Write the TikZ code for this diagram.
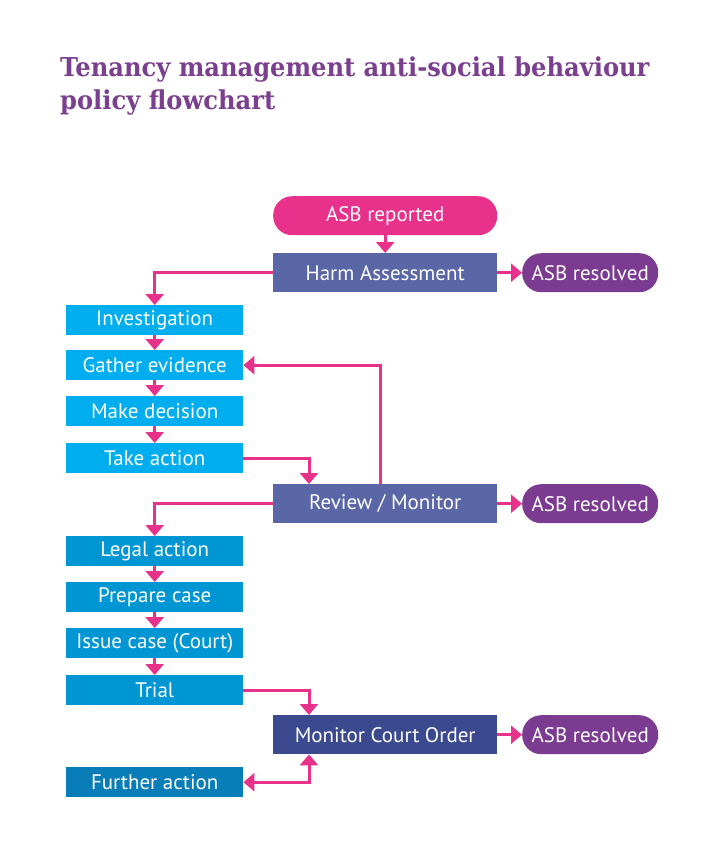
\documentclass[tikz,border=0pt]{standalone}
\usepackage{fontspec}
\setmainfont{PT Sans}
\newfontfamily\titlefont[FakeStretch=0.93]{DejaVu Serif}
\usetikzlibrary{arrows.meta,positioning}
\definecolor{titlepurple}{HTML}{7A3F8E}
\definecolor{asbpink}{HTML}{E8318A}
\definecolor{slate}{HTML}{5A66A6}
\definecolor{navy}{HTML}{3B4A8F}
\definecolor{respurple}{HTML}{7B3B91}
\definecolor{cyanA}{HTML}{00AEEF}
\definecolor{cyanB}{HTML}{0096D4}
\definecolor{cyanC}{HTML}{087DB7}
\tikzset{
  box/.style={draw=none, inner sep=0pt, anchor=north west, text=white, font=\fontsize{21}{24}\selectfont},
  leftbox/.style={box, minimum width=177pt, minimum height=30pt},
  midbox/.style={box, minimum width=224pt, minimum height=39pt},
  resbox/.style={box, minimum width=136pt, minimum height=39pt, rounded corners=19pt, fill=respurple},
  tip/.tip={Triangle[length=11pt,width=18pt]},
  arr/.style={draw=asbpink, line width=3pt, -tip},
  dblarr/.style={draw=asbpink, line width=3pt, tip-tip}
}
\begin{document}
\begin{tikzpicture}[x=1pt,y=-1pt]
\useasboundingbox (0,0) rectangle (722,852);
\fill[white] (0,0) rectangle (722,852);
% title
\node[anchor=base west, inner sep=0pt, text=titlepurple, font=\titlefont\bfseries\fontsize{26}{30}\selectfont] (t1) at (60,76) {Tenancy management anti-social behaviour};
\node[anchor=base west, inner sep=0pt, text=titlepurple, font=\titlefont\bfseries\fontsize{26}{30}\selectfont] (t2) at (60,109) {policy flowchart};
% middle column
\node[midbox, fill=asbpink, rounded corners=19pt] (rep) at (273,196) {ASB reported};
\node[midbox, fill=slate] (harm) at (273,253) {Harm Assessment};
\node[resbox] (res1) at (522,253) {ASB resolved};
\node[midbox, fill=slate] (rev) at (273,484) {Review / Monitor};
\node[resbox] (res2) at (522,484) {ASB resolved};
\node[midbox, fill=navy] (mco) at (273,715) {Monitor Court Order};
\node[resbox] (res3) at (522,715) {ASB resolved};
% left column
\node[leftbox, fill=cyanA] (inv) at (66,305) {Investigation};
\node[leftbox, fill=cyanA] (gat) at (66,350) {Gather evidence};
\node[leftbox, fill=cyanA] (mak) at (66,396) {Make decision};
\node[leftbox, fill=cyanA] (tak) at (66,443) {Take action};
\node[leftbox, fill=cyanB] (leg) at (66,536) {Legal action};
\node[leftbox, fill=cyanB] (pre) at (66,582) {Prepare case};
\node[leftbox, fill=cyanB] (iss) at (66,628) {Issue case (Court)};
\node[leftbox, fill=cyanB] (tri) at (66,675) {Trial};
\node[leftbox, fill=cyanC] (fur) at (66,767) {Further action};
% connectors
\draw[arr] (rep) -- (harm);
\draw[arr] (harm.west) -| (inv.north);
\draw[arr] (harm) -- (res1);
\draw[arr] (inv) -- (gat);
\draw[arr] (gat) -- (mak);
\draw[arr] (mak) -- (tak);
\draw[arr] (tak.east) -| ([xshift=36pt]rev.north west);
\draw[arr] ([xshift=-5pt]rev.north) |- (gat.east);
\draw[arr] (rev.west) -| (leg.north);
\draw[arr] (rev) -- (res2);
\draw[arr] (leg) -- (pre);
\draw[arr] (pre) -- (iss);
\draw[arr] (iss) -- (tri);
\draw[arr] (tri.east) -| ([xshift=36pt]mco.north west);
\draw[dblarr] ([xshift=36pt]mco.south west) |- (fur.east);
\draw[arr] (mco) -- (res3);
\end{tikzpicture}
\end{document}
